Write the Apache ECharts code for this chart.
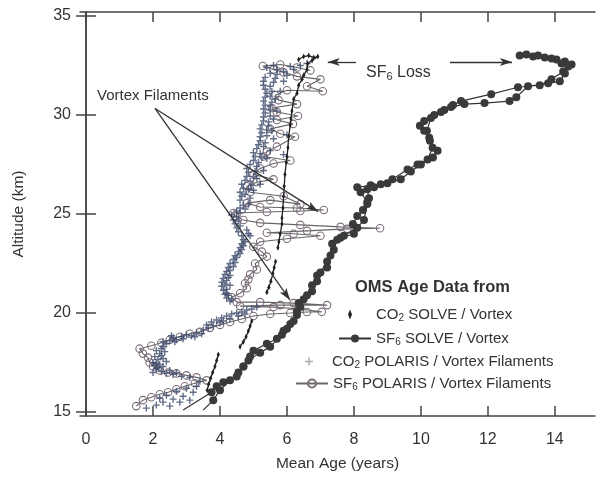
<!DOCTYPE html>
<html><head><meta charset="utf-8">
<script src="https://cdn.jsdelivr.net/npm/echarts@6/dist/echarts.min.js"></script>
<style>html,body{margin:0;padding:0;background:#fff}#c{width:600px;height:477px}</style>
</head><body><div id="c"></div>
<script>
// ---- tick labels ----
const xTicks = [0, 2, 4, 6, 8, 10, 12, 14];
const yTicks = [15, 20, 25, 30, 35];

// ---- series names ----
const nameCO2Solve = 'CO2 SOLVE / Vortex';
const nameSF6Solve = 'SF6 SOLVE / Vortex';
const nameCO2Polaris = 'CO2 POLARIS / Vortex Filaments';
const nameSF6Polaris = 'SF6 POLARIS / Vortex Filaments';

// ---- SF6 SOLVE / Vortex: [mean age (yr), altitude (km)] ----
const sf6Solve = [
 [2.9,15.1],[3.75,16.0],[3.9,16.3],[4.1,16.5],[4.5,16.8],[4.7,17.3],[4.85,17.6],[5.2,18.0],[5.5,18.3],[5.85,18.9],[6.0,19.2],[6.2,19.6],[6.3,20.1],[6.35,20.5],[6.6,20.9],[6.75,21.4],[6.9,21.9],[7.2,22.3],[7.3,22.9],[7.35,23.5],[7.6,23.8],[8.0,24.0],[7.97,24.5],[8.1,24.9],[8.27,25.2],[8.4,25.6],[8.2,26.1],[8.1,26.35],[8.5,26.45],[8.8,26.5],[9.15,26.75],[9.6,27.25],[9.9,27.5],[10.2,27.75],[10.35,28.35],[10.25,28.85],[10.1,29.2],[9.97,29.45],[10.1,29.7],[10.4,30.0],[10.7,30.25],[10.96,30.5],[11.2,30.7],[12.1,31.05],[12.9,31.4],[13.55,31.5],[13.9,31.8],[14.25,32.2],[14.5,32.55],[14.3,32.7],[14.05,32.8],[13.7,32.9],[13.35,32.95],[12.95,33.0],
 [13.15,33.05],[13.5,33.0],[13.9,32.85],[14.2,32.6],[14.4,32.45],[14.3,32.1],[14.15,31.7],[13.8,31.6],[13.2,31.45],[12.85,30.9],[12.65,30.7],[11.9,30.6],[11.3,30.55],[10.9,30.4],[10.6,30.15],[10.3,29.85],[10.18,29.2],[10.27,28.7],[10.5,28.2],[10.36,27.85],[10.0,27.5],[9.7,27.15],[9.4,26.75],[9.0,26.55],[8.6,26.35],[8.4,26.25],[8.45,25.8],[8.4,25.5],[8.3,24.7],[8.1,24.3],[7.7,23.9],[7.5,23.7],[7.4,23.2],[7.2,22.6],[7.0,22.05],[6.9,21.6],[6.75,21.1],[6.5,20.7],[6.4,20.3],[6.3,19.9],[6.1,19.45],[5.9,19.1],[5.7,18.7],[5.4,18.45],[5.0,18.1],[4.9,17.8],[4.7,17.3],[4.55,17.0],[4.3,16.6],[4.0,16.1],[3.8,15.6],[3.5,15.1]
];

// ---- CO2 SOLVE / Vortex (segments of the dense trace) ----
const co2SolveTop = [[6.35,32.8],[6.5,32.95],[6.65,33.0],[6.8,32.9],[6.92,32.95],[6.75,32.75],[6.62,32.6],[6.6,32.3],[6.5,32.0],[6.45,31.8],[6.35,31.5],[6.3,31.1],[6.2,30.8],[6.15,30.2],[6.12,29.8],[6.1,29.5],[6.05,28.9],[6.03,28.35],[6.0,27.9],[5.98,27.6],[5.94,27.0],[5.92,26.4],[5.9,25.9],[5.88,25.3],[5.85,24.8],[5.85,24.5],[5.8,24.0],[5.76,23.6],[5.73,23.3]];
const co2SolveMid = [[5.66,22.6],[5.62,22.3],[5.58,22.0],[5.52,21.6],[5.46,21.3],[5.4,21.05]];
const co2SolveLow = [[4.95,19.6],[4.9,19.35],[4.85,19.1],[4.78,18.8],[4.7,18.55],[4.6,18.3]];
const co2SolveBottom = [[3.95,17.9],[3.9,17.6],[3.85,17.3],[3.78,17.0],[3.72,16.7],[3.66,16.4],[3.62,16.1]];

// ---- SF6 POLARIS / Vortex Filaments ----
const sf6Polaris = [
 [1.5,15.3],[1.7,15.6],[1.95,15.75],[2.2,15.9],[2.45,16.0],[2.7,16.15],[2.95,16.3],[3.25,16.45],[3.6,16.6],
 [3.3,16.75],[3.0,16.85],[2.7,16.95],[2.45,17.0],[2.2,17.1],[2.0,17.3],[1.9,17.5],[1.85,17.75],[1.7,17.95],[1.6,18.2],
 [1.95,18.35],[2.25,18.5],[2.5,18.65],[2.8,18.8],[3.1,18.95],[3.4,19.05],[3.7,19.25],[4.0,19.4],[4.3,19.55],[4.65,19.7],[5.0,19.85],[5.5,19.95],[6.1,20.0],[6.6,20.05],[7.04,20.06],
 [6.4,20.2],[5.6,20.3],[4.6,20.35],[5.8,20.4],[7.2,20.4],[6.2,20.5],[5.2,20.55],[4.5,20.55],
 [4.35,20.8],[4.6,21.0],[4.8,21.25],[4.75,21.5],[4.85,21.7],[4.9,21.95],[5.1,22.2],[5.05,22.5],[5.4,22.85],[5.25,23.1],[5.0,23.35],[5.2,23.6],[6.0,23.75],[7.0,23.9],[6.2,24.0],[5.4,24.05],[6.6,24.15],[7.8,24.25],[8.78,24.28],[7.6,24.35],[6.4,24.45],[5.2,24.55],[4.7,24.7],[4.45,24.9],[4.4,25.05],[5.4,25.1],[6.4,25.15],[7.1,25.2],[6.3,25.3],[5.2,25.35],[4.8,25.55],[5.5,25.7],[6.4,25.5],[5.9,25.9],[4.9,26.1],[4.8,26.4],[5.1,26.6],[5.6,26.75],[5.0,27.0],[5.2,27.3],[5.6,27.55],[6.1,27.7],[5.3,27.9],[5.4,28.15],[5.7,28.4],[6.24,28.9],[5.8,29.05],[5.5,29.3],[6.18,29.55],[5.7,29.75],[6.33,29.95],[5.7,30.15],[5.55,30.35],[6.3,30.55],[5.75,30.75],[5.65,31.0],[6.0,31.25],[7.07,31.2],[6.6,31.45],[7.0,31.8],[6.3,31.95],[5.9,32.15],[5.6,32.3],[5.28,32.47],[5.8,32.55],[6.3,32.4],[6.7,32.25]
];

// ---- CO2 POLARIS / Vortex Filaments ----
const co2Polaris = [
 [1.8,15.2],[2.1,15.35],[2.3,15.5],[2.5,15.3],[2.6,15.65],[2.8,15.5],[2.9,15.8],[3.1,15.6],[3.2,16.0],[2.4,15.85],[2.7,16.05],[3.0,16.2],[3.3,16.3],[3.4,16.55],[2.2,15.7],
 [3.1,16.75],[2.85,16.8],[2.6,16.9],[2.4,16.95],[2.25,17.05],[2.1,17.2],[2.05,17.35],[2.0,17.5],[2.1,17.45],[2.15,17.65],[2.05,17.8],[2.2,17.95],[2.1,18.1],[2.25,18.2],[2.3,17.3],[2.4,17.55],[2.0,17.0],[2.5,17.1],[2.7,17.0],
 [2.15,17.25],[2.2,17.4],[2.3,17.7],[2.25,17.85],[2.35,18.05],[2.3,18.3],
 [2.4,18.45],[2.5,18.6],[2.6,18.75],[2.7,18.65],[2.85,18.8],[3.0,18.9],[3.15,18.85],[3.3,19.0],[2.3,18.55],[2.55,18.85],[3.45,18.95],
 [2.65,18.55],[2.9,18.7],[3.25,18.8],[3.5,19.15],[3.65,19.25],[4.0,19.5],[4.3,19.7],[4.55,19.85],[4.75,19.95],
 [3.6,19.4],[3.75,19.55],[3.9,19.65],[4.05,19.75],[4.2,19.85],[4.35,19.95],[4.5,20.0],[4.65,20.05],[4.8,20.15],[4.95,20.2],[5.1,20.3],[3.8,19.35],[4.1,19.6],
 [4.3,20.6],[4.2,20.75],[4.15,20.95],[4.1,21.15],[4.05,21.35],[4.06,21.55],[4.1,21.75],[4.15,21.95],[4.2,22.1],[4.25,22.3],[4.3,22.5],[4.4,22.7],[4.45,22.9],[4.55,23.1],[4.6,23.3],[4.65,23.5],[4.2,21.0],[4.3,21.4],[4.25,21.8],
 [4.35,20.7],[4.25,20.9],[4.2,21.2],[4.15,21.45],[4.2,21.65],[4.3,21.9],[4.3,22.15],[4.4,22.35],[4.45,22.55],[4.5,22.8],[4.6,23.0],[4.65,23.2],[4.7,23.4],
 [4.7,23.7],[4.65,23.9],[4.55,24.1],[4.5,24.3],[4.45,24.5],[4.4,24.7],[4.35,24.95],[4.5,25.15],[4.6,25.3],[4.7,25.45],[4.8,24.2],[4.9,23.9],
 [4.75,23.6],[4.85,24.0],[4.6,24.4],[4.55,24.65],[4.5,24.85],[4.6,25.05],[4.75,25.25],[4.85,25.5],
 [4.6,25.7],[4.65,25.9],[4.6,26.1],[4.7,26.3],[4.65,26.5],[4.75,26.7],[4.8,26.9],[4.85,27.1],[4.8,27.3],[4.9,27.5],[5.0,27.7],[5.05,27.9],[5.0,28.1],[5.1,28.3],[5.15,28.5],[5.2,28.7],[5.2,28.9],[5.25,29.1],[5.2,29.3],[5.25,29.5],[5.3,29.7],[5.3,29.9],[5.35,30.1],[5.3,30.3],[5.35,30.5],[5.3,30.7],[5.35,30.9],[5.4,31.1],[5.35,31.3],[5.3,31.5],[5.3,31.7],[5.35,31.9],[5.5,32.1],[5.7,32.3],[5.4,32.4],
 [4.9,25.8],[4.75,26.0],[4.85,26.25],[4.95,26.45],[4.9,26.65],[5.0,26.9],[5.05,27.15],[5.1,27.4],[5.15,27.6],[5.25,27.85],[5.2,28.05],[5.3,28.4],[5.35,28.6],[5.4,28.95],[5.4,29.25],[5.45,29.45],[5.45,29.65],[5.5,29.95],[5.5,30.25],[5.5,30.45],[5.55,30.65],[5.5,30.95],[5.55,31.2],[5.5,31.45],[5.6,31.65],[5.65,31.85],[5.7,32.05],[5.9,32.2],[6.1,32.45],[5.6,32.5],
 [5.0,26.2],[5.1,26.8],[5.3,27.2],[5.4,27.8],[5.5,28.2],[5.6,28.8],[5.55,29.2],[5.6,29.8],[5.7,30.2],[5.65,30.8],[5.8,31.2],[5.9,31.7],[6.0,32.0],[6.2,32.3],[6.4,32.5],[6.6,32.6],[6.0,29.0],[5.9,28.0],[5.2,26.5]
];

// ---- annotation arrows [from, to] in data coordinates ----
const arrowsVortex = [[[2.06,30.33],[6.93,25.12]], [[2.06,30.33],[6.09,20.66]]];
const arrowsLoss = [[[8.06,32.67],[7.22,32.67]], [[10.87,32.67],[12.72,32.67]]];

const FONT = "'Liberation Sans', Arial, Helvetica, sans-serif";
const TXT = '#333';
const plusPath = 'path://M4,0h2v4h4v2h-4v4h-2v-4h-4v-2h4z';
const diamondPath = 'path://M2,0L4,5L2,10L0,5Z';

const chart = echarts.init(document.getElementById('c'), null, {renderer: 'canvas'});

function richName(n) {
  const m = n.match(/^(CO|SF)(\d)(.*)$/);
  return '{a|' + m[1] + '}{b|' + m[2] + '}{a|' + m[3] + '}';
}
const richStyles = {
  a: {fontSize: 15, fontFamily: FONT, color: TXT, lineHeight: 18},
  b: {fontSize: 10, fontFamily: FONT, color: TXT, lineHeight: 8, verticalAlign: 'bottom'}
};
function legendAt(name, left, centerY, w, extra) {
  return Object.assign({
    data: [name], left: left, top: centerY - 9, padding: 0, itemWidth: w, itemHeight: 10,
    selectedMode: false, formatter: richName,
    textStyle: {rich: richStyles, fontFamily: FONT, fontSize: 15, color: TXT}
  }, extra || {});
}

const axisCommon = {
  axisLine: {show: true, lineStyle: {color: '#444', width: 1.5}},
  splitLine: {show: false},
};

const sf6SolveData = sf6Solve.map((p, i) =>
  (i === 0 || i === sf6Solve.length - 1) ? {value: p, symbol: 'none'} : p);

const co2SolveSeg = (d) => ({
  type: 'line', name: nameCO2Solve, data: d, z: 4,
  symbol: diamondPath, symbolSize: [3, 6], symbolKeepAspect: false,
  lineStyle: {color: '#222', width: 1.3}, itemStyle: {color: '#222'},
  silent: true
});

const option = {
  animation: false,
  backgroundColor: '#fff',
  grid: {left: 80, right: 5, top: 12, bottom: 54},
  xAxis: [
    Object.assign({}, axisCommon, {
      type: 'value', min: -0.18, max: 15.2, position: 'bottom',
      axisTick: {show: true, inside: true, length: 10, customValues: xTicks, lineStyle: {color: '#444', width: 1.5}},
      axisLabel: {customValues: xTicks, fontSize: 16, color: TXT, fontFamily: FONT, margin: 16},
      name: 'Mean Age (years)', nameLocation: 'middle', nameGap: 40,
      nameTextStyle: {fontSize: 15.5, color: TXT, fontFamily: FONT}
    }),
    Object.assign({}, axisCommon, {
      type: 'value', min: -0.18, max: 15.2, position: 'top',
      axisTick: {show: true, inside: true, length: 10, customValues: xTicks, lineStyle: {color: '#444', width: 1.5}},
      axisLabel: {show: false}
    })
  ],
  yAxis: [
    Object.assign({}, axisCommon, {
      type: 'value', min: 14.8, max: 35.2, position: 'left',
      axisTick: {show: true, inside: true, length: 10, customValues: yTicks, lineStyle: {color: '#444', width: 1.5}},
      axisLabel: {customValues: yTicks, fontSize: 16, color: TXT, fontFamily: FONT, margin: 9},
      name: 'Altitude (km)', nameLocation: 'middle', nameGap: 53, nameRotate: 90,
      nameTextStyle: {fontSize: 15.5, color: TXT, fontFamily: FONT}
    }),
    Object.assign({}, axisCommon, {
      type: 'value', min: 14.8, max: 35.2, position: 'right',
      axisTick: {show: true, inside: true, length: 10, customValues: yTicks, lineStyle: {color: '#444', width: 1.5}},
      axisLabel: {show: false}
    })
  ],
  legend: [
    legendAt(nameCO2Solve, 348, 316, 42, {data: [{name: nameCO2Solve, icon: diamondPath, itemStyle: {color: '#222'}}]}),
    legendAt(nameSF6Solve, 338, 340, 32),
    legendAt(nameCO2Polaris, 305, 363, 36, {itemHeight: 8, data: [{name: nameCO2Polaris, icon: plusPath, itemStyle: {color: '#9a9a9a'}}]}),
    legendAt(nameSF6Polaris, 295, 385, 32)
  ],
  graphic: [
    {type: 'text', left: 97, top: 88, silent: true,
     style: {text: 'Vortex Filaments', font: '15px ' + FONT, fill: TXT}},
    {type: 'text', left: 355, top: 279, silent: true,
     style: {text: 'OMS Age Data from', font: 'bold 16.5px ' + FONT, fill: TXT}},
    {type: 'text', left: 366, top: 65, silent: true,
     style: {text: '{a|SF}{b|6}{a| Loss}', rich: {
       a: {fontSize: 16, fontFamily: FONT, fill: TXT, color: TXT, lineHeight: 19},
       b: {fontSize: 11, fontFamily: FONT, fill: TXT, color: TXT, lineHeight: 9, verticalAlign: 'bottom'}
     }}}
  ],
  series: [
    {
      type: 'line', name: nameSF6Polaris, data: sf6Polaris, z: 2, silent: true,
      symbol: 'circle', symbolSize: 7.5,
      lineStyle: {color: '#666', width: 1.1},
      itemStyle: {color: 'rgba(255,255,255,0)', borderColor: '#7d6c7b', borderWidth: 1.1}
    },
    {
      type: 'scatter', name: nameCO2Polaris, data: co2Polaris, z: 3, silent: true,
      symbol: plusPath, symbolSize: 7,
      itemStyle: {color: '#3c4a6a'}
    },
    co2SolveSeg(co2SolveTop),
    co2SolveSeg(co2SolveMid),
    co2SolveSeg(co2SolveLow),
    co2SolveSeg(co2SolveBottom),
    {
      type: 'line', name: nameSF6Solve, data: sf6SolveData, z: 5, silent: true,
      symbol: 'circle', symbolSize: 8,
      lineStyle: {color: '#333', width: 1.2},
      itemStyle: {color: '#3a3a3a'},
      markLine: {
        silent: true, animation: false,
        symbol: ['none', 'arrow'], symbolSize: [6, 12],
        label: {show: false},
        lineStyle: {color: '#333', width: 1.3, type: 'solid'},
        emphasis: {disabled: true},
        data: arrowsVortex.concat(arrowsLoss).map(a => [{coord: a[0]}, {coord: a[1]}])
      }
    }
  ]
};
chart.setOption(option);
</script>
</body></html>
